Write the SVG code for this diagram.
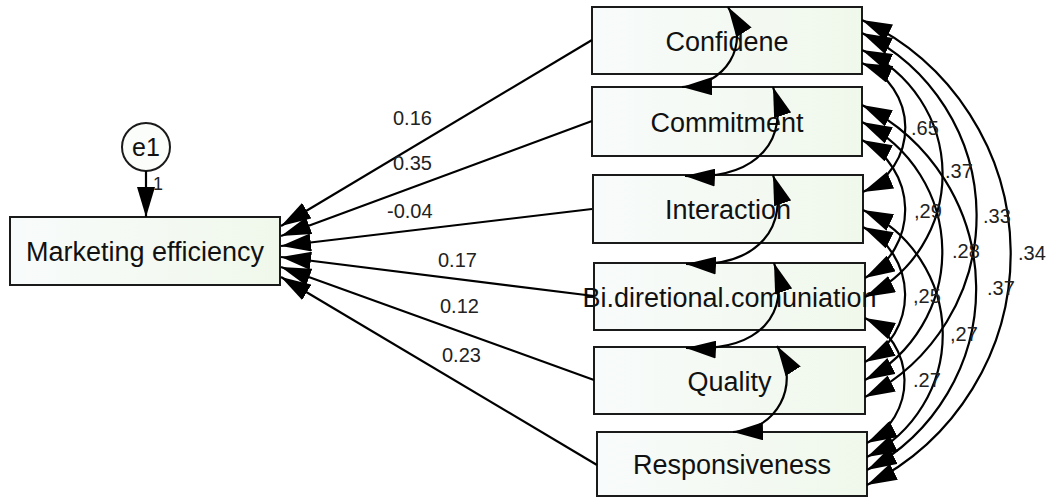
<svg xmlns="http://www.w3.org/2000/svg" width="1046" height="499" viewBox="0 0 1046 499">
<defs>
<linearGradient id="boxfill" x1="0" y1="0" x2="1" y2="0">
<stop offset="0" stop-color="#f8fbfb"/>
<stop offset="1" stop-color="#f0f8eb"/>
</linearGradient>
<marker id="ah" markerUnits="userSpaceOnUse" markerWidth="30" markerHeight="18" viewBox="0 0 30 18" refX="30" refY="9" orient="auto-start-reverse">
<path d="M0,0 L30,9 L0,18 Z" fill="#000"/>
</marker>
<style>
.box{fill:url(#boxfill);stroke:#1a1a1a;stroke-width:2}
.nt{font-family:"Liberation Sans",Arial,sans-serif;font-size:27px;fill:#111;text-anchor:middle}
.lb{font-family:"Liberation Sans",Arial,sans-serif;font-size:20px;fill:#222}
.c{fill:none;stroke:#000;stroke-width:2.2}
.one{marker-end:url(#ah)}
.two{marker-start:url(#ah);marker-end:url(#ah)}
</style>
</defs>
<rect width="1046" height="499" fill="#fff"/>
<g id="nodes">
<g id="marketing-efficiency"><rect class="box" x="10" y="217" width="270" height="68"/><text class="nt" x="145" y="261">Marketing efficiency</text></g>
<g id="e1"><circle cx="146" cy="147" r="24" fill="#fbfdfb" stroke="#1a1a1a" stroke-width="2"/><text class="nt" x="146" y="156" style="font-size:25px">e1</text></g>
<g id="confidene"><rect class="box" x="592" y="7" width="270" height="67"/><text class="nt" x="727" y="50.5">Confidene</text></g>
<g id="commitment"><rect class="box" x="592" y="87" width="270" height="69"/><text class="nt" x="727" y="131.5">Commitment</text></g>
<g id="interaction"><rect class="box" x="593" y="175" width="270" height="68"/><text class="nt" x="728" y="219">Interaction</text></g>
<g id="bidirectional"><rect class="box" x="594" y="263" width="271" height="67"/><text class="nt" x="729.5" y="306.5">Bi.diretional.comuniation</text></g>
<g id="quality"><rect class="box" x="594" y="347" width="271" height="67"/><text class="nt" x="729.5" y="390.5">Quality</text></g>
<g id="responsiveness"><rect class="box" x="597" y="432" width="270" height="64"/><text class="nt" x="732" y="474">Responsiveness</text></g>
</g>
<g id="connectors">
<path class="c one" d="M146,171 L146,217"/>
<path class="c one" d="M592,40 L281,226"/>
<path class="c one" d="M592,121 L281,236"/>
<path class="c one" d="M592,209 L281,246"/>
<path class="c one" d="M594,296 L281,257"/>
<path class="c one" d="M594,380 L281,267"/>
<path class="c one" d="M597,465 L281,277"/>
<path class="c two" d="M728,7 C752,45 725,86 682,87"/>
<path class="c two" d="M773,87 C790,137 760,180 685,176"/>
<path class="c two" d="M773,175 C790,225 760,268 686,264"/>
<path class="c two" d="M774,263 C791,313 761,352 686,348"/>
<path class="c two" d="M777,346 C802,385 776,431 733,432"/>
<path class="c two" d="M862,63 A70,70 0 0 1 863,192"/>
<path class="c two" d="M862,140 A78,78 0 0 1 865,278"/>
<path class="c two" d="M863,227 A76,76 0 0 1 865,362"/>
<path class="c two" d="M865,318 A70,70 0 0 1 867,443"/>
<path class="c two" d="M862,50 A136,136 0 0 1 865,297"/>
<path class="c two" d="M862,122 A145,145 0 0 1 865,380"/>
<path class="c two" d="M863,210 A137,137 0 0 1 867,457"/>
<path class="c two" d="M862,33 A203,203 0 0 1 865,397"/>
<path class="c two" d="M862,105 A205,205 0 0 1 867,470"/>
<path class="c two" d="M862,20 A258,258 0 0 1 867,485"/>
</g>
<g id="labels">
<text class="lb" x="153" y="190" style="font-size:18px">1</text>
<text class="lb" x="393" y="125">0.16</text>
<text class="lb" x="393" y="170">0.35</text>
<text class="lb" x="387" y="218">-0.04</text>
<text class="lb" x="438" y="267">0.17</text>
<text class="lb" x="440" y="313">0.12</text>
<text class="lb" x="442" y="362">0.23</text>
<text class="lb" x="911" y="135">.65</text>
<text class="lb" x="945" y="178">.37</text>
<text class="lb" x="914" y="218">,29</text>
<text class="lb" x="983" y="223">.33</text>
<text class="lb" x="952" y="258">.28</text>
<text class="lb" x="1018" y="260">.34</text>
<text class="lb" x="913" y="303">,25</text>
<text class="lb" x="987" y="295">.37</text>
<text class="lb" x="950" y="341">,27</text>
<text class="lb" x="913" y="387">.27</text>
</g>
</svg>
